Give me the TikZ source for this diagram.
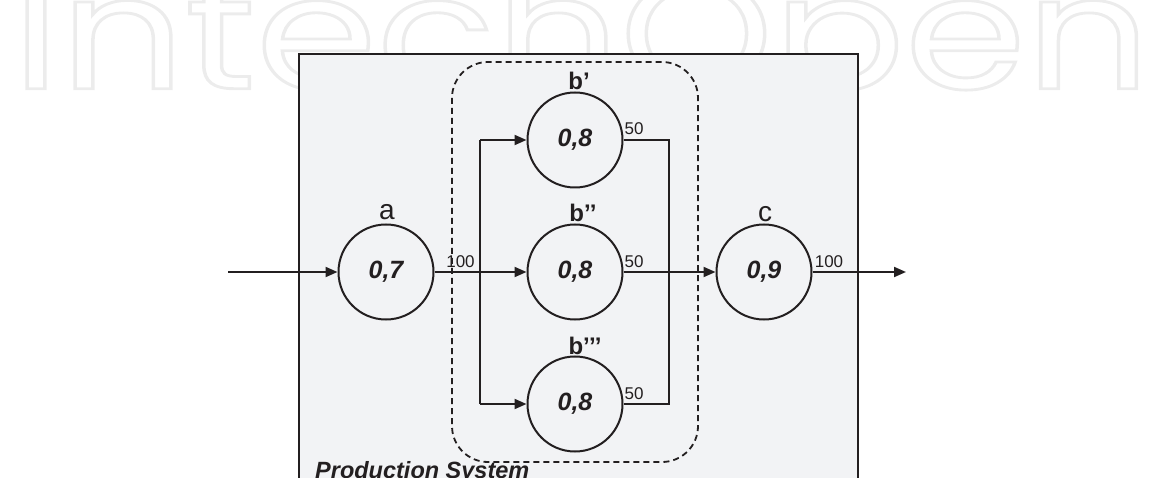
\documentclass[tikz,border=0pt]{standalone}
\usepackage{fontspec}
\setmainfont{Liberation Sans}
\newfontfamily\wmfont{Poppins}
\usetikzlibrary{arrows.meta}
\definecolor{ink}{RGB}{35,31,32}
\definecolor{panel}{RGB}{242,243,245}
\definecolor{wm}{RGB}{236,236,236}
\tikzset{
  proc/.style={circle,draw=ink,line width=2pt,minimum size=95pt,inner sep=0pt,
    font=\fontsize{25}{25}\selectfont\bfseries\itshape,text=ink},
  wire/.style={draw=ink,line width=2pt},
  arr/.style={wire,-{Triangle[length=12pt,width=10pt]}},
  qty/.style={inner sep=0pt,font=\fontsize{17}{17}\selectfont,text=ink},
  namelbl/.style={inner sep=0pt,anchor=base,font=\fontsize{28}{28}\selectfont,text=ink},
  bname/.style={inner sep=0pt,anchor=base,font=\fontsize{24}{24}\selectfont\bfseries,text=ink},
  group/.style={draw=ink,line width=1.8pt,dash pattern=on 6pt off 4pt,rounded corners=36pt}
}
\begin{document}
\begin{tikzpicture}[x=1pt,y=-1pt]
\useasboundingbox (0,0) rectangle (1151,478);
\clip (0,0) rectangle (1151,478);
% watermark
\node[anchor=south west,inner sep=0pt,text=wm] (wmark) at (12,130)
  {\resizebox{1138pt}{117pt}{\special{pdf:literal direct 1 Tr 0.18 w}\wmfont IntechOpen\special{pdf:literal direct 0 Tr}}};
% production system panel
\path[fill=panel,draw=ink,line width=2pt] (299,54) rectangle (858,520);
\node[anchor=base west,inner sep=0pt,font=\fontsize{23.5}{23.5}\selectfont\bfseries\itshape,text=ink] (ps) at (315,478) {Production System};
% dashed group
\draw[group] (452,62) rectangle (698,462);
% nodes
\node[proc] (a) at (386,272) {0,7};
\node[proc] (b1) at (575,140) {0,8};
\node[proc] (b2) at (575,272) {0,8};
\node[proc] (b3) at (575,404) {0,8};
\node[proc] (c) at (764,272) {0,9};
% names
\node[namelbl] (la) at (387,220) {a};
\node[namelbl] (lc) at (765,222) {c};
\node[bname] (lb1) at (579,90) {b’};
\node[bname] (lb2) at (583,222) {b’’};
\node[bname] (lb3) at (585,354) {b’’’};
% coordinates
\coordinate (in) at (228,272);
\coordinate (out) at (906,272);
\coordinate (sp) at (480,272);
\coordinate (spt) at (480,140);
\coordinate (spb) at (480,404);
\coordinate (mgt) at (669,140);
\coordinate (mgb) at (669,404);
% connectors
\draw[arr] (in) -- (a);
\draw[wire] (a) -- (sp);
\draw[wire] (spt) -- (spb);
\draw[arr] (spt) -- (b1);
\draw[arr] (sp) -- (b2);
\draw[arr] (spb) -- (b3);
\draw[wire] (b1) -- (mgt) -- (mgb) -- (b3);
\draw[arr] (b2) -- (c);
\draw[arr] (c) -- (out);
% quantities
\node[qty] (q1) at (460.5,262) {100};
\node[qty] (q2) at (634,129) {50};
\node[qty] (q3) at (634,261.5) {50};
\node[qty] (q4) at (634,394) {50};
\node[qty] (q5) at (829,262) {100};
\end{tikzpicture}
\end{document}
